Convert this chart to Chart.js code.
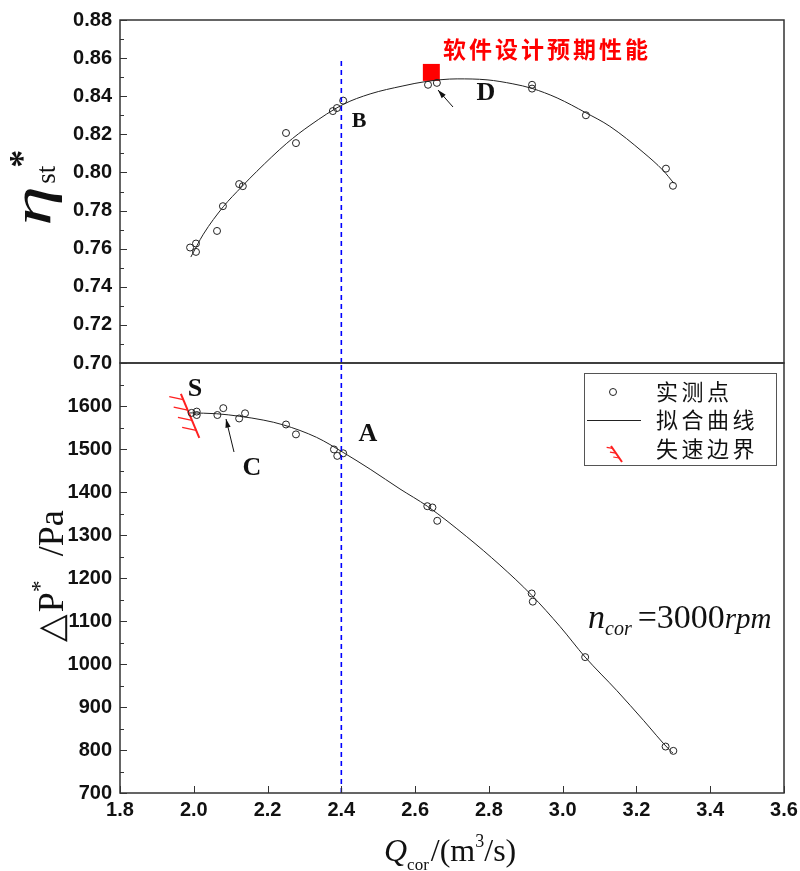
<!DOCTYPE html>
<html>
<head>
<meta charset="utf-8">
<script src="https://cdn.jsdelivr.net/npm/chart.js@4.4.0/dist/chart.umd.min.js"></script>
<style>
html, body { margin: 0; padding: 0; background: #fff; }
#wrap { position: relative; width: 800px; height: 871px; }
#wrap canvas { position: absolute; left: 0; top: 0; }
</style>
</head>
<body>
<div id="wrap">
  <canvas id="top" width="800" height="871"></canvas>
  <canvas id="bot" width="800" height="871"></canvas>
</div>
<script>
// 效率 - 实测点
const effQ = [1.990, 2.006, 2.006, 2.063, 2.079, 2.123, 2.133, 2.250, 2.277, 2.377, 2.388, 2.405, 2.635, 2.659, 2.917, 2.917, 3.063, 3.280, 3.299];
const effVal = [0.7606, 0.7583, 0.7627, 0.7693, 0.7823, 0.7939, 0.7928, 0.8207, 0.8154, 0.8322, 0.8338, 0.8377, 0.846, 0.847, 0.846, 0.844, 0.830, 0.802, 0.793];
// 效率 - 拟合曲线
const effFitQ = [1.992, 2.026, 2.080, 2.130, 2.171, 2.252, 2.315, 2.405, 2.478, 2.567, 2.632, 2.714, 2.795, 2.865, 2.917, 2.985, 3.063, 3.128, 3.218, 3.272, 3.302];
const effFitVal = [0.7556, 0.7676, 0.7820, 0.7925, 0.8006, 0.8153, 0.8247, 0.8357, 0.8412, 0.8454, 0.8478, 0.8491, 0.8486, 0.8465, 0.8441, 0.8391, 0.8313, 0.8242, 0.8106, 0.8011, 0.7942];
// 软件设计预期性能
const designQ = [2.644];
const designEff = [0.8525];

// 压升 - 实测点
const dpQ = [1.994, 2.008, 2.008, 2.064, 2.080, 2.123, 2.139, 2.250, 2.277, 2.380, 2.389, 2.405, 2.633, 2.647, 2.660, 2.916, 2.919, 3.061, 3.279, 3.300];
const dpVal = [1584, 1587, 1579, 1579, 1595, 1571, 1583, 1557, 1534, 1499, 1484, 1490, 1367, 1364, 1333, 1164, 1145, 1016, 808, 798];
// 压升 - 拟合曲线
const dpFitQ = [1.990, 2.062, 2.125, 2.190, 2.243, 2.333, 2.405, 2.480, 2.559, 2.633, 2.740, 2.830, 2.916, 2.993, 3.061, 3.147, 3.219, 3.291, 3.299];
const dpFitVal = [1584, 1582, 1576, 1567, 1556, 1527, 1492, 1452, 1407, 1367, 1296, 1230, 1160, 1087, 1016, 938, 869, 799, 793];
// 失速边界
const stallQ = [1.965, 2.015];
const stallP = [1628, 1526];

// 设计流量线 Q = 2.4
const refQ = [2.4, 2.4];
const refEff = [0.70, 0.86];
const refP = [700, 1700];

const effTicks = [0.70, 0.72, 0.74, 0.76, 0.78, 0.80, 0.82, 0.84, 0.86, 0.88];
const dpTicks = [700, 800, 900, 1000, 1100, 1200, 1300, 1400, 1500, 1600, 1700];
const qTicks = [1.8, 2.0, 2.2, 2.4, 2.6, 2.8, 3.0, 3.2, 3.4, 3.6];

const pts = (xs, ys) => xs.map((x, i) => ({ x: x, y: ys[i] }));

const tickFont = { family: 'Liberation Sans', size: 20, weight: 'bold' };
const serif = '"Liberation Serif", "DejaVu Serif", serif';
const cjk = '"Noto Sans CJK SC", sans-serif';

// 画一段带上下标的文字
function drawParts(ctx, parts, x, y) {
    let cx = x;
    parts.forEach(p => {
        ctx.font = p.font;
        ctx.fillText(p.t, cx, y + (p.dy || 0));
        cx += ctx.measureText(p.t).width + (p.gap || 0);
    });
}

function drawChars(ctx, text, x, y, step) {
    [...text].forEach((c, i) => ctx.fillText(c, x + i * step, y));
}

function arrow(ctx, x1, y1, x2, y2) {
    const ang = Math.atan2(y2 - y1, x2 - x1);
    ctx.beginPath();
    ctx.moveTo(x1, y1);
    ctx.lineTo(x2, y2);
    ctx.stroke();
    ctx.beginPath();
    ctx.moveTo(x2, y2);
    ctx.lineTo(x2 - 9 * Math.cos(ang - 0.3), y2 - 9 * Math.sin(ang - 0.3));
    ctx.lineTo(x2 - 9 * Math.cos(ang + 0.3), y2 - 9 * Math.sin(ang + 0.3));
    ctx.closePath();
    ctx.fill();
}

// 边框和朝内的刻度
function frameAndTicks(chart, yMinor, showX) {
    const { ctx, chartArea: a, scales } = chart;
    ctx.save();
    ctx.strokeStyle = '#333';
    ctx.lineWidth = 1.5;
    ctx.strokeRect(a.left, a.top, a.right - a.left, a.bottom - a.top);
    ctx.lineWidth = 1;
    const y = scales.y;
    const n = Math.round((y.max - y.min) / yMinor);
    for (let i = 0; i <= n; i++) {
        const py = Math.round(y.getPixelForValue(y.min + i * yMinor)) + 0.5;
        const len = i % 2 === 0 ? 7 : 4;
        ctx.beginPath();
        ctx.moveTo(a.left, py);
        ctx.lineTo(a.left + len, py);
        ctx.stroke();
    }
    if (showX) {
        qTicks.forEach(v => {
            const px = Math.round(scales.x.getPixelForValue(v)) + 0.5;
            ctx.beginPath();
            ctx.moveTo(px, a.bottom);
            ctx.lineTo(px, a.bottom - 7);
            ctx.stroke();
        });
    }
    ctx.restore();
}

const topDecor = {
    id: 'topDecor',
    afterDraw(chart) {
        const ctx = chart.ctx;
        frameAndTicks(chart, 0.01, false);
        ctx.save();
        ctx.fillStyle = '#111';
        ctx.strokeStyle = '#111';
        ctx.textBaseline = 'middle';
        ctx.textAlign = 'center';
        ctx.font = 'bold 22px ' + serif;
        ctx.fillText('B', 359, 121);
        ctx.font = 'bold 26px ' + serif;
        ctx.fillText('D', 486, 93);
        ctx.lineWidth = 1;
        arrow(ctx, 453, 107, 438, 90);
        ctx.fillStyle = '#ff0000';
        ctx.textAlign = 'left';
        ctx.font = 'bold 23px ' + cjk;
        drawChars(ctx, '软件设计预期性能', 443, 49, 26);
        // 纵轴标题 η*st
        ctx.fillStyle = '#111';
        ctx.textBaseline = 'alphabetic';
        ctx.translate(50, 226);
        ctx.rotate(-Math.PI / 2);
        ctx.save();
        ctx.scale(1.5, 1);
        ctx.font = 'italic 54px ' + serif;
        ctx.fillText('η', 0, 0);
        const w = ctx.measureText('η').width * 1.5;
        ctx.restore();
        ctx.font = '27px ' + serif;
        ctx.fillText('st', w + 2, 5);
        ctx.font = 'bold 36px ' + serif;
        ctx.fillText('*', w + 18, -16);
        ctx.restore();
    }
};

const botDecor = {
    id: 'botDecor',
    afterDraw(chart) {
        const { ctx, scales } = chart;
        frameAndTicks(chart, 50, true);
        ctx.save();
        // 失速边界的短斜线
        const x0 = scales.x.getPixelForValue(stallQ[0]), y0 = scales.y.getPixelForValue(stallP[0]);
        const x1 = scales.x.getPixelForValue(stallQ[1]), y1 = scales.y.getPixelForValue(stallP[1]);
        ctx.strokeStyle = '#ff2020';
        ctx.lineWidth = 1.3;
        [0.13, 0.37, 0.6, 0.83].forEach(f => {
            const hx = x0 + (x1 - x0) * f, hy = y0 + (y1 - y0) * f;
            ctx.beginPath();
            ctx.moveTo(hx, hy);
            ctx.lineTo(hx - 14, hy - 3);
            ctx.stroke();
        });
        // 字母标注
        ctx.fillStyle = '#111';
        ctx.strokeStyle = '#111';
        ctx.textBaseline = 'middle';
        ctx.textAlign = 'center';
        ctx.font = 'bold 26px ' + serif;
        ctx.fillText('S', 195, 389);
        ctx.fillText('C', 252, 468);
        ctx.fillText('A', 368, 434);
        ctx.lineWidth = 1;
        arrow(ctx, 234, 452, 226, 419);
        // 图例
        ctx.strokeStyle = '#555';
        ctx.strokeRect(584.5, 373.5, 192, 92);
        ctx.strokeStyle = '#222';
        ctx.beginPath();
        ctx.arc(613, 392, 3.5, 0, Math.PI * 2);
        ctx.stroke();
        ctx.beginPath();
        ctx.moveTo(587, 420.5);
        ctx.lineTo(641, 420.5);
        ctx.stroke();
        ctx.strokeStyle = '#ff2020';
        ctx.lineWidth = 2;
        ctx.beginPath();
        ctx.moveTo(611, 446);
        ctx.lineTo(622, 462);
        ctx.stroke();
        ctx.lineWidth = 1.2;
        [0.15, 0.45, 0.75].forEach(f => {
            const hx = 611 + 11 * f, hy = 446 + 16 * f;
            ctx.beginPath();
            ctx.moveTo(hx, hy);
            ctx.lineTo(hx - 6, hy - 1);
            ctx.stroke();
        });
        ctx.fillStyle = '#111';
        ctx.textAlign = 'left';
        ctx.font = '22px ' + cjk;
        drawChars(ctx, '实测点', 656, 392, 25.5);
        drawChars(ctx, '拟合曲线', 656, 420, 25.5);
        drawChars(ctx, '失速边界', 656, 449, 25.5);
        // 转速
        ctx.textBaseline = 'alphabetic';
        drawParts(ctx, [
            { t: 'n', font: 'italic 34px ' + serif },
            { t: 'cor', font: 'italic 20px ' + serif, dy: 7, gap: 6 },
            { t: '=3000', font: '34px ' + serif },
            { t: 'rpm', font: 'italic 29px ' + serif }
        ], 588, 628);
        // 横轴标题
        drawParts(ctx, [
            { t: 'Q', font: 'italic 32px ' + serif },
            { t: 'cor', font: '17px ' + serif, dy: 9, gap: 2 },
            { t: '/(m', font: '32px ' + serif },
            { t: '3', font: '18px ' + serif, dy: -14 },
            { t: '/s)', font: '32px ' + serif }
        ], 384, 861);
        // 纵轴标题 ΔP* /Pa
        ctx.translate(63, 642);
        ctx.rotate(-Math.PI / 2);
        drawParts(ctx, [
            { t: '△', font: '36px "DejaVu Sans", sans-serif', gap: 2 },
            { t: 'P', font: '36px ' + serif },
            { t: '*', font: '24px ' + serif, dy: -16, gap: 24 },
            { t: '/Pa', font: '36px ' + serif }
        ], 0, 0);
        ctx.restore();
    }
};

const measuredStyle = {
    showLine: false,
    pointRadius: 3.5,
    pointBorderWidth: 1,
    pointBorderColor: '#222',
    pointBackgroundColor: 'rgba(0,0,0,0)'
};
const fitStyle = {
    showLine: true,
    borderColor: '#222',
    borderWidth: 1,
    pointRadius: 0,
    cubicInterpolationMode: 'monotone'
};
const refStyle = {
    showLine: true,
    borderColor: '#0000ff',
    borderWidth: 1.6,
    borderDash: [5, 4],
    pointRadius: 0
};

const yTicksBase = {
    padding: 8,
    color: '#111',
    font: tickFont,
    autoSkip: false
};

new Chart(document.getElementById('top'), {
    type: 'scatter',
    data: {
        datasets: [
            Object.assign({ label: '拟合曲线', data: pts(effFitQ, effFitVal) }, fitStyle),
            Object.assign({ label: 'Q=2.4', data: pts(refQ, refEff) }, refStyle),
            Object.assign({ label: '实测点', data: pts(effQ, effVal) }, measuredStyle),
            {
                label: '软件设计预期性能',
                data: pts(designQ, designEff),
                pointStyle: 'rect',
                pointRadius: 12,
                pointBorderWidth: 0,
                pointBackgroundColor: '#ff0000'
            }
        ]
    },
    options: {
        responsive: false,
        animation: false,
        devicePixelRatio: 1,
        layout: { padding: { top: 19, right: 16, bottom: 508, left: 0 } },
        plugins: { legend: { display: false }, tooltip: { enabled: false } },
        scales: {
            x: { type: 'linear', min: 1.8, max: 3.6, display: false },
            y: {
                type: 'linear', min: 0.70, max: 0.88,
                afterFit: s => { s.width = 120; },
                afterBuildTicks: s => { s.ticks = effTicks.map(v => ({ value: v })); },
                grid: { display: false, drawTicks: false },
                border: { display: false },
                ticks: Object.assign({ callback: v => v.toFixed(2) }, yTicksBase)
            }
        }
    },
    plugins: [topDecor]
});

new Chart(document.getElementById('bot'), {
    type: 'scatter',
    data: {
        datasets: [
            Object.assign({ label: '拟合曲线', data: pts(dpFitQ, dpFitVal) }, fitStyle),
            Object.assign({ label: 'Q=2.4', data: pts(refQ, refP) }, refStyle),
            Object.assign({ label: '实测点', data: pts(dpQ, dpVal) }, measuredStyle),
            {
                label: '失速边界',
                data: pts(stallQ, stallP),
                showLine: true,
                borderColor: '#ff2020',
                borderWidth: 2,
                pointRadius: 0
            }
        ]
    },
    options: {
        responsive: false,
        animation: false,
        devicePixelRatio: 1,
        layout: { padding: { top: 363, right: 16, bottom: 0, left: 0 } },
        plugins: { legend: { display: false }, tooltip: { enabled: false } },
        scales: {
            x: {
                type: 'linear', min: 1.8, max: 3.6,
                afterFit: s => { s.height = 78; s.paddingLeft = 0; s.paddingRight = 0; },
                afterBuildTicks: s => { s.ticks = qTicks.map(v => ({ value: v })); },
                grid: { display: false, drawTicks: false },
                border: { display: false },
                ticks: { padding: 5, color: '#111', font: tickFont, maxRotation: 0, autoSkip: false, callback: v => v.toFixed(1) }
            },
            y: {
                type: 'linear', min: 700, max: 1700,
                afterFit: s => { s.width = 120; s.paddingTop = 0; s.paddingBottom = 0; },
                afterBuildTicks: s => { s.ticks = dpTicks.map(v => ({ value: v })); },
                grid: { display: false, drawTicks: false },
                border: { display: false },
                ticks: Object.assign({ callback: v => (v === 1700 ? '' : String(v)) }, yTicksBase)
            }
        }
    },
    plugins: [botDecor]
});
</script>
</body>
</html>
